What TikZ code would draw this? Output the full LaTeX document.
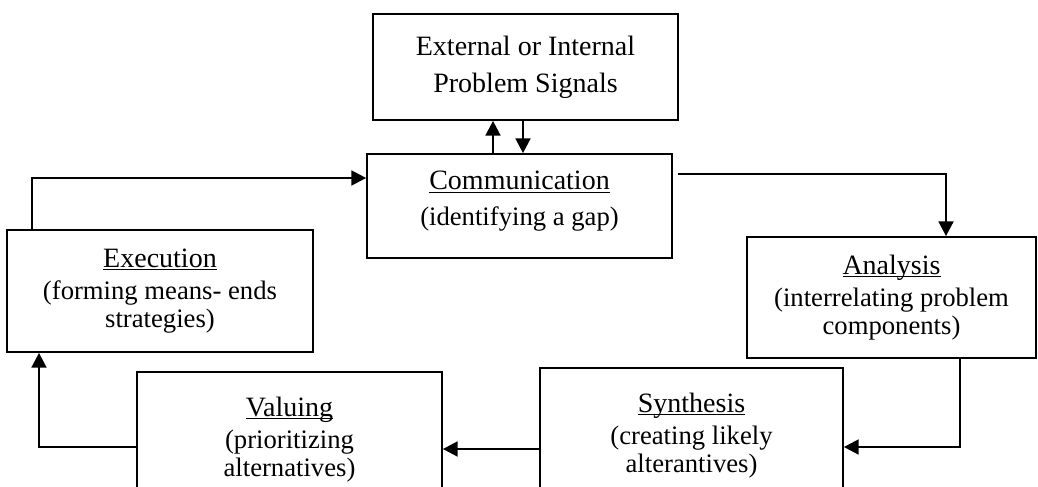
\documentclass[tikz,border=0pt]{standalone}
\usepackage{fontspec}
\setmainfont{Liberation Serif}
\usetikzlibrary{arrows.meta}
\newcommand\myul[1]{\raisebox{0pt}[\height][0pt]{\underline{\raisebox{0pt}[\height][0pt]{#1}}}}
\newcommand\ttl[1]{{\fontsize{21pt}{21pt}\selectfont\myul{#1}}}
\begin{document}
\begin{tikzpicture}[x=0.75pt,y=-0.75pt,
  box/.style={draw, line width=1.3pt, inner sep=0pt, align=center,
    font=\fontsize{20pt}{21pt}\selectfont},
  conn/.style={line width=1.9pt, -{Triangle[length=11pt,width=11pt]}}]
\useasboundingbox (0,0) rectangle (1038,486);
\clip (0,0) rectangle (1038,486);
\node[box, font=\fontsize{21pt}{28pt}\selectfont,
  minimum width=305*0.75pt, minimum height=106*0.75pt] (sig) at (525.5,67)
  {External or Internal\\Problem Signals};
\node[box, minimum width=305*0.75pt, minimum height=104*0.75pt] (comm) at (519.5,206)
  {\ttl{Communication}\\[6pt](identifying a gap)\rule[-11pt]{0pt}{0pt}};
\node[box, minimum width=306*0.75pt, minimum height=122*0.75pt] (exec) at (160,291)
  {\ttl{Execution}\\[3pt](forming means- ends\\strategies)};
\node[box, minimum width=289*0.75pt, minimum height=121*0.75pt] (anal) at (891.5,297.5)
  {\ttl{Analysis}\\[3pt](interrelating problem\\components)};
\node[box, minimum width=305*0.75pt, minimum height=136*0.75pt] (val) at (289.5,440)
  {\ttl{Valuing}\\[3pt](prioritizing\\alternatives)};
\node[box, minimum width=303*0.75pt, minimum height=136*0.75pt] (syn) at (691.5,436)
  {\ttl{Synthesis}\\[3pt](creating likely\\alterantives)};
\coordinate (xu) at (493,0);
\coordinate (xd) at (523,0);
\coordinate (ca) at (946,174);
\coordinate (as) at (960,447);
\coordinate (sv) at (0,449);
\coordinate (ve) at (39,447);
\coordinate (ec) at (32,178);
\draw[conn] (comm.north -| xu) -- (sig.south -| xu);
\draw[conn] (sig.south -| xd) -- (comm.north -| xd);
\draw[conn] ([xshift=3.75pt]comm.east |- ca) -- (ca) -- (anal.north -| ca);
\draw[conn] (anal.south -| as) -- (as) -- (syn.east |- as);
\draw[conn] (syn.west |- sv) -- (val.east |- sv);
\draw[conn] (val.west |- ve) -- (ve) -- (exec.south -| ve);
\draw[conn] (exec.north -| ec) -- (ec) -- (comm.west |- ec);
\end{tikzpicture}
\end{document}
